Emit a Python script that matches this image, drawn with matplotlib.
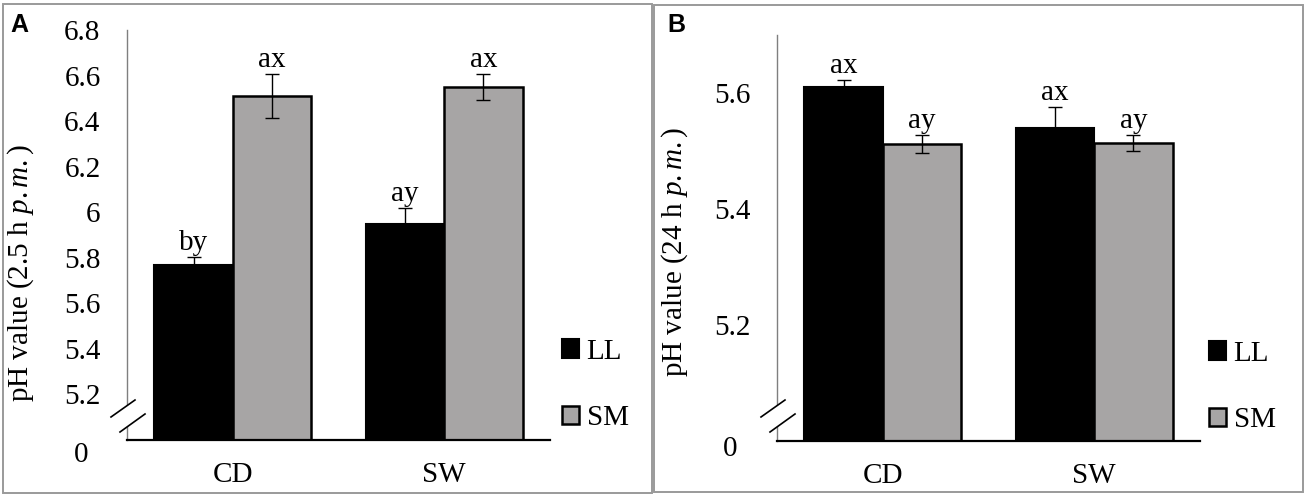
import numpy as np
import matplotlib
matplotlib.use("Agg")
import matplotlib.pyplot as plt
from matplotlib.patches import Rectangle, Polygon
from matplotlib.lines import Line2D

plt.rcParams['font.family'] = 'Liberation Serif'
plt.rcParams['mathtext.fontset'] = 'custom'
plt.rcParams['mathtext.rm'] = 'Liberation Serif'
plt.rcParams['mathtext.it'] = 'Liberation Serif:italic'

# data
groups = ['CD', 'SW']
series = ['LL', 'SM']

ll_a = [5.77, 5.95]
ll_a_err = [0.035, 0.07]
sm_a = [6.51, 6.55]
sm_a_err = [0.095, 0.057]
ll_a_lab = ['by', 'ay']
sm_a_lab = ['ax', 'ax']

ll_b = [5.61, 5.54]
ll_b_err = [0.012, 0.035]
sm_b = [5.512, 5.513]
sm_b_err = [0.015, 0.014]
ll_b_lab = ['ax', 'ax']
sm_b_lab = ['ay', 'ay']

ticks_a = [5.2, 5.4, 5.6, 5.8, 6.0, 6.2, 6.4, 6.6, 6.8]
ticks_a_lab = ['5.2', '5.4', '5.6', '5.8', '6', '6.2', '6.4', '6.6', '6.8']
ticks_b = [5.2, 5.4, 5.6]
ticks_b_lab = ['5.2', '5.4', '5.6']

W, H = 1309, 500
fig = plt.figure(figsize=(W / 100, H / 100), dpi=100)

GRAY = '#a7a5a5'
FS = 21


def px(x, y):
    return x / W, 1 - y / H


def panel(rect, ll, ll_err, sm, sm_err, ll_lab, sm_lab, ylim, ticks, tlabs, ylabel, labxy, leg_xy):
    ax = fig.add_axes(rect)
    x = np.arange(len(groups))
    w = 0.37
    ax.bar(x - w / 2, ll, w, color='black', edgecolor='black', linewidth=1.5, label=series[0])
    ax.bar(x + w / 2, sm, w, color=GRAY, edgecolor='black', linewidth=1.8, label=series[1])
    ax.errorbar(x - w / 2, ll, yerr=ll_err, fmt='none', ecolor='black', elinewidth=1, capsize=5, capthick=1)
    ax.errorbar(x + w / 2, sm, yerr=sm_err, fmt='none', ecolor='black', elinewidth=1, capsize=5, capthick=1)
    for i in range(len(groups)):
        ax.annotate(ll_lab[i], (x[i] - w / 2, ll[i] + ll_err[i]), xytext=(0, 5),
                    textcoords='offset points', ha='center', va='baseline', fontsize=FS)
        ax.annotate(sm_lab[i], (x[i] + w / 2, sm[i] + sm_err[i]), xytext=(0, 5),
                    textcoords='offset points', ha='center', va='baseline', fontsize=FS)
    ax.set_xlim(-0.5, len(groups) - 0.5)
    ax.set_ylim(*ylim)
    ax.set_yticks(ticks)
    ax.set_yticklabels(tlabs)
    ax.set_xticks(x)
    ax.set_xticklabels(groups)
    ax.tick_params(axis='y', length=0, pad=19, labelsize=FS)
    ax.tick_params(axis='x', length=0, pad=16, labelsize=FS)
    for s in ['top', 'right']:
        ax.spines[s].set_visible(False)
    ax.spines['bottom'].set_linewidth(1.6)
    ax.spines['left'].set_color('#7f7f7f')
    ax.spines['left'].set_linewidth(1.0)
    ax.set_ylabel(ylabel, fontsize=FS)
    ax.yaxis.set_label_coords(*labxy)
    ax.legend(loc='center left', bbox_to_anchor=leg_xy, frameon=False, fontsize=FS,
              handlelength=0.6, handleheight=0.6, handletextpad=0.25,
              labelspacing=1.4, borderpad=0, borderaxespad=0)
    return ax


def breaks(x0, y0):
    s1 = [(x0 - 16, y0 - 23), (x0 + 8, y0 - 40)]
    s2 = [(x0 - 7, y0 - 8), (x0 + 18, y0 - 26)]
    poly = Polygon([px(*s1[0]), px(*s1[1]), px(*s2[1]), px(*s2[0])], closed=True,
                   transform=fig.transFigure, facecolor='white', edgecolor='none', zorder=5)
    fig.patches.append(poly)
    for s in (s1, s2):
        fig.lines.append(Line2D([px(*s[0])[0], px(*s[1])[0]], [px(*s[0])[1], px(*s[1])[1]],
                                transform=fig.transFigure, color='black', lw=1.2, zorder=6))


# panel frames
fig.patches.append(Rectangle(px(3, 493), 649 / W, 489 / H, transform=fig.transFigure,
                             fill=False, edgecolor='#9a9a9a', lw=1.4))
fig.patches.append(Rectangle(px(654, 492), 649 / W, 487 / H, transform=fig.transFigure,
                             fill=False, edgecolor='#9a9a9a', lw=1.4))

ax_a = panel([127 / W, 60 / H, 423 / W, 410 / H], ll_a, ll_a_err, sm_a, sm_a_err,
             ll_a_lab, sm_a_lab, (5.0, 6.8), ticks_a, ticks_a_lab,
             r'pH value (2.5 h $\mathit{p.m.}$)', (-0.215, 0.407), (1.028, 0.134))
ax_b = panel([777 / W, 59.5 / H, 423 / W, 405.5 / H], ll_b, ll_b_err, sm_b, sm_b_err,
             ll_b_lab, sm_b_lab, (5.0, 5.7), ticks_b, ticks_b_lab,
             r'pH value (24 h $\mathit{p.m.}$)', (-0.206, 0.465), (1.021, 0.132))

breaks(127, 440)
breaks(777, 440)

fig.text(*px(81, 455), '0', ha='center', va='center', fontsize=FS)
fig.text(*px(730, 449), '0', ha='center', va='center', fontsize=FS)

fig.text(*px(10, 25), 'A', ha='left', va='center', fontsize=18, fontweight='bold', family='Liberation Sans')
fig.text(*px(667, 25), 'B', ha='left', va='center', fontsize=18, fontweight='bold', family='Liberation Sans')

fig.savefig('out.png', dpi=100)
